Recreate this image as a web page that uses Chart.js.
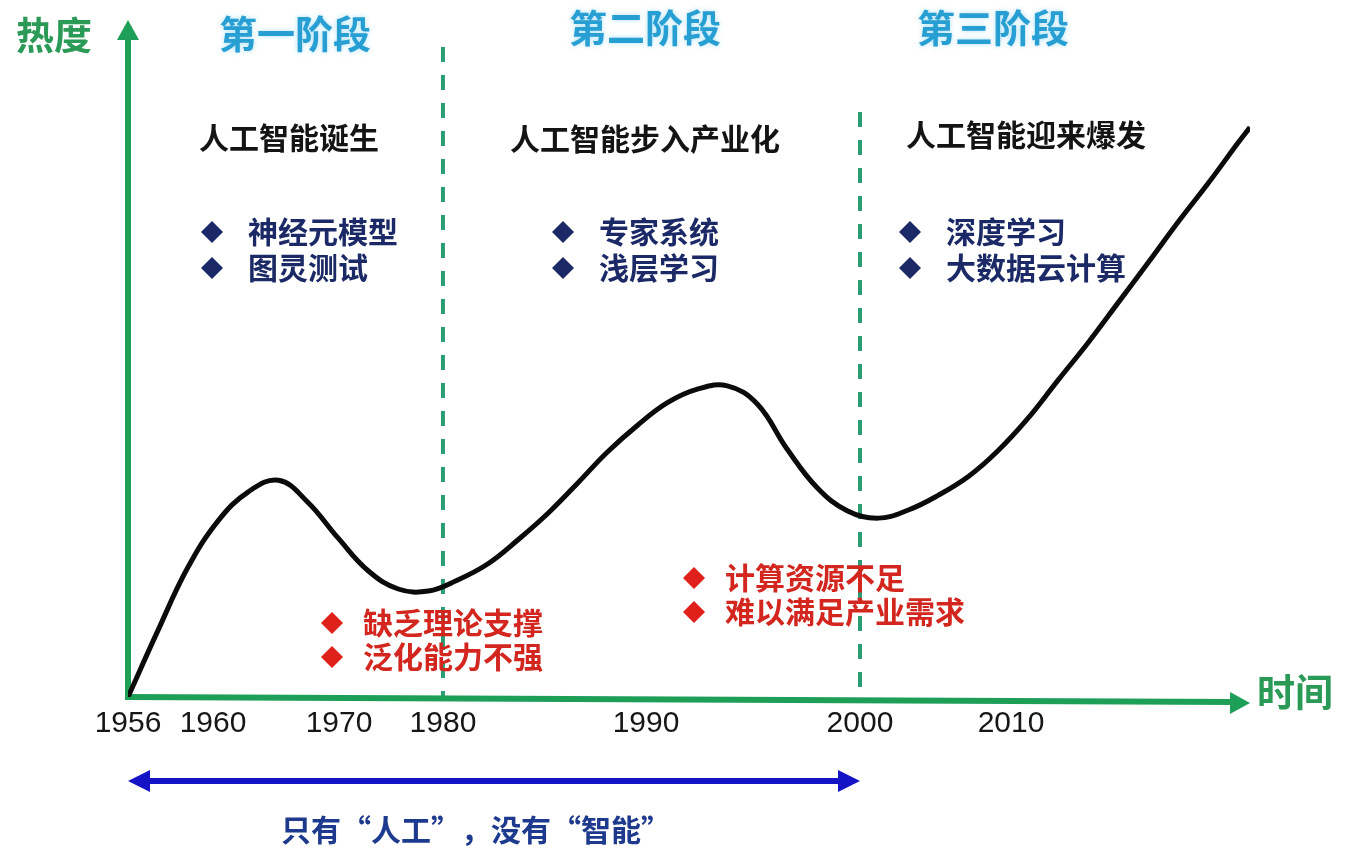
<!DOCTYPE html>
<html>
<head>
<meta charset="utf-8">
<script src="https://cdn.jsdelivr.net/npm/chart.js@4.4.1/dist/chart.umd.min.js"></script>
<style>
  html, body { margin: 0; padding: 0; background: #ffffff; }
  #wrap { width: 1348px; height: 850px; position: relative; }
</style>
</head>
<body>
<div id="wrap"><canvas id="c" width="1348" height="850"></canvas></div>
<script>
// AI "heat" over time: years on the time axis, heat level (0–100) on the vertical axis
const years = [1956, 1957.4, 1958.8, 1960.4, 1962.8, 1965.2, 1967.5, 1969.9, 1972.8, 1975.7,
               1978.6, 1980.7, 1982.2, 1983.7, 1985.2, 1986.7, 1988.1, 1989.6, 1991.0, 1992.4,
               1993.8, 1995.2, 1996.6, 1998.0, 1999.4, 2001.2, 2003.2, 2005.2, 2007.2, 2009.1,
               2011.1, 2013.1, 2015.2, 2017.2, 2019.2, 2021.2, 2023.2, 2025.2, 2026];
const heat = [0, 9.8, 19.1, 26.1, 30.4, 32.1, 28.9, 23.6, 18.7, 16.0,
              15.7, 17.3, 19.7, 23.3, 27.3, 31.9, 36.3, 40.3, 43.6, 45.6,
              46.1, 43.4, 36.7, 31.0, 27.6, 26.5, 27.7, 29.9, 32.7, 36.4,
              41.2, 46.8, 52.6, 58.5, 64.4, 70.4, 76.1, 82.1, 84.4];

// tick labels on the time axis
const tickYears = [1956, 1960, 1970, 1980, 1990, 2000, 2010];

// stage boundaries and texts
const stageBounds = [1980, 2000];
const stageTitles = ['第一阶段', '第二阶段', '第三阶段'];
const stageHeads = ['人工智能诞生', '人工智能步入产业化', '人工智能迎来爆发'];
const stageItems = [['神经元模型', '图灵测试'], ['专家系统', '浅层学习'], ['深度学习', '大数据云计算']];
const troubleItems = [['缺乏理论支撑', '泛化能力不强'], ['计算资源不足', '难以满足产业需求']];
const spanYears = [1956, 2000];
const spanNote = '只有“人工”，没有“智能”';
const axisNames = ['热度', '时间'];

// The time axis is drawn unevenly stretched: each anchor year sits at a fixed
// fraction of the axis length and values in between are placed linearly.
const axisYears = [1956, 1960, 1970, 1980, 1990, 2000, 2010, 2026];
const axisStops = [0, 0.0758, 0.1881, 0.2807, 0.4617, 0.6524, 0.7870, 1];

function yearToDecimal(v) {
  const n = axisYears.length;
  for (let i = 1; i < n; i++) {
    if (v <= axisYears[i] || i === n - 1) {
      const t = (v - axisYears[i - 1]) / (axisYears[i] - axisYears[i - 1]);
      return axisStops[i - 1] + t * (axisStops[i] - axisStops[i - 1]);
    }
  }
  return 0;
}
function decimalToYear(d) {
  const n = axisStops.length;
  for (let i = 1; i < n; i++) {
    if (d <= axisStops[i] || i === n - 1) {
      const t = (d - axisStops[i - 1]) / (axisStops[i] - axisStops[i - 1]);
      return axisYears[i - 1] + t * (axisYears[i] - axisYears[i - 1]);
    }
  }
  return axisYears[0];
}

class TimelineScale extends Chart.LinearScale {
  static id = 'timeline';
  static defaults = {};
  getPixelForValue(value) {
    return this.getPixelForDecimal(yearToDecimal(value));
  }
  getValueForPixel(pixel) {
    return decimalToYear(this.getDecimalForPixel(pixel));
  }
}
Chart.register(TimelineScale);

const CJK = '"Noto Sans CJK SC", "Noto Sans", sans-serif';
const C = {
  axis: '#1e9f58',
  axisText: '#2a9a56',
  stage: '#279fd3',
  dash: '#2a9d72',
  head: '#141414',
  navy: '#1b2a66',
  red: '#e0201b',
  redText: '#d2261f',
  span: '#1414c6',
  note: '#1d3a8e',
  curve: '#0b0b0b'
};

function text(ctx, s, x, y, font, color, align) {
  ctx.save();
  ctx.font = font;
  ctx.fillStyle = color;
  ctx.textAlign = align || 'left';
  ctx.textBaseline = 'middle';
  ctx.fillText(s, x, y);
  ctx.restore();
}
function diamond(ctx, x, y, r, color) {
  ctx.save();
  ctx.fillStyle = color;
  ctx.beginPath();
  ctx.moveTo(x, y - r);
  ctx.lineTo(x + r, y);
  ctx.lineTo(x, y + r);
  ctx.lineTo(x - r, y);
  ctx.closePath();
  ctx.fill();
  ctx.restore();
}
function head(ctx, tx, ty, dx, dy, len, half, color) {
  // filled triangle pointing in direction (dx, dy) with its tip at (tx, ty)
  const bx = tx - dx * len, by = ty - dy * len;
  ctx.save();
  ctx.fillStyle = color;
  ctx.beginPath();
  ctx.moveTo(tx, ty);
  ctx.lineTo(bx - dy * half, by + dx * half);
  ctx.lineTo(bx + dy * half, by - dx * half);
  ctx.closePath();
  ctx.fill();
  ctx.restore();
}

const decor = {
  id: 'decor',
  beforeDatasetsDraw(chart) {
    const { ctx, chartArea: a, scales: { x } } = chart;
    // stage separators
    const tops = [47, 112];
    stageBounds.forEach((yr, i) => {
      const px = x.getPixelForValue(yr);
      ctx.save();
      ctx.strokeStyle = C.dash;
      ctx.lineWidth = 4;
      ctx.setLineDash([15, 13]);
      ctx.beginPath();
      ctx.moveTo(px, tops[i]);
      ctx.lineTo(px, a.bottom);
      ctx.stroke();
      ctx.restore();
    });
    // axes with arrow heads
    ctx.save();
    ctx.strokeStyle = C.axis;
    ctx.lineWidth = 6;
    ctx.beginPath();
    ctx.moveTo(a.left, a.bottom + 3);
    ctx.lineTo(a.left, a.top + 16);
    ctx.stroke();
    ctx.beginPath();
    ctx.moveTo(a.left - 3, a.bottom);
    ctx.lineTo(a.right - 16, a.bottom + 5);
    ctx.stroke();
    ctx.restore();
    head(ctx, a.left, a.top - 2, 0, -1, 20, 11, C.axis);
    const ang = Math.atan2(6, a.right - a.left);
    head(ctx, a.right, a.bottom + 6, Math.cos(ang), Math.sin(ang), 20, 11, C.axis);
  },
  afterDatasetsDraw(chart) {
    const { ctx, scales: { x } } = chart;
    const bold = (s) => 'bold ' + s + 'px ' + CJK;

    // axis names
    text(ctx, axisNames[0], 54, 35, bold(38), C.axisText, 'center');
    text(ctx, axisNames[1], 1257, 692, bold(38), C.axisText, 'left');

    // stage titles
    const titleX = [295, 645, 993], titleY = [34, 28, 28];
    stageTitles.forEach((s, i) => {
      ctx.save();
      ctx.shadowColor = 'rgba(110, 200, 240, 0.55)';
      ctx.shadowBlur = 5;
      text(ctx, s, titleX[i], titleY[i], bold(38), C.stage, 'center');
      ctx.restore();
    });

    // stage headings
    const headX = [289, 645, 1026], headY = [138, 139, 135];
    stageHeads.forEach((s, i) => text(ctx, s, headX[i], headY[i], bold(30), C.head, 'center'));

    // achievements of each stage
    const itemX = [212, 563, 910];
    stageItems.forEach((list, i) => {
      list.forEach((s, j) => {
        const y = 232 + j * 36;
        diamond(ctx, itemX[i], y, 11, C.navy);
        text(ctx, s, itemX[i] + 36, y, bold(30), C.navy, 'left');
      });
    });

    // bottlenecks behind each slump
    const troubleX = [332, 694], troubleY = [623, 578];
    troubleItems.forEach((list, i) => {
      list.forEach((s, j) => {
        const y = troubleY[i] + j * 34;
        diamond(ctx, troubleX[i], y, 11, C.red);
        text(ctx, s, troubleX[i] + 31, y, bold(30), C.redText, 'left');
      });
    });

    // span arrow below the time axis
    const x0 = x.getPixelForValue(spanYears[0]);
    const x1 = x.getPixelForValue(spanYears[1]);
    const ya = 781;
    ctx.save();
    ctx.strokeStyle = C.span;
    ctx.lineWidth = 6;
    ctx.beginPath();
    ctx.moveTo(x0 + 16, ya);
    ctx.lineTo(x1 - 16, ya);
    ctx.stroke();
    ctx.restore();
    head(ctx, x0, ya, -1, 0, 22, 11, C.span);
    head(ctx, x1, ya, 1, 0, 22, 11, C.span);
    text(ctx, spanNote, (x0 + x1) / 2 - 18, 830, bold(30), C.note, 'center');
  }
};

new Chart(document.getElementById('c'), {
  type: 'line',
  data: {
    datasets: [{
      data: years.map((yr, i) => ({ x: yr, y: heat[i] })),
      borderColor: C.curve,
      borderWidth: 5,
      pointRadius: 0,
      tension: 0.4,
      fill: false
    }]
  },
  options: {
    responsive: false,
    animation: false,
    layout: { padding: { left: 128, right: 98, top: 22, bottom: 109 } },
    plugins: { legend: { display: false }, tooltip: { enabled: false } },
    scales: {
      x: {
        type: 'timeline',
        min: 1956,
        max: 2026,
        grid: { display: false, drawTicks: false },
        border: { display: false },
        afterBuildTicks: (s) => { s.ticks = tickYears.map(v => ({ value: v })); },
        afterFit: (s) => { s.height = 44; },
        ticks: {
          autoSkip: false,
          maxRotation: 0,
          padding: 9,
          color: '#161616',
          font: { family: '"Liberation Sans", Arial, sans-serif', size: 30 },
          callback: (v) => String(v)
        }
      },
      y: { display: false, min: 0, max: 100 }
    }
  },
  plugins: [decor]
});
</script>
</body>
</html>
